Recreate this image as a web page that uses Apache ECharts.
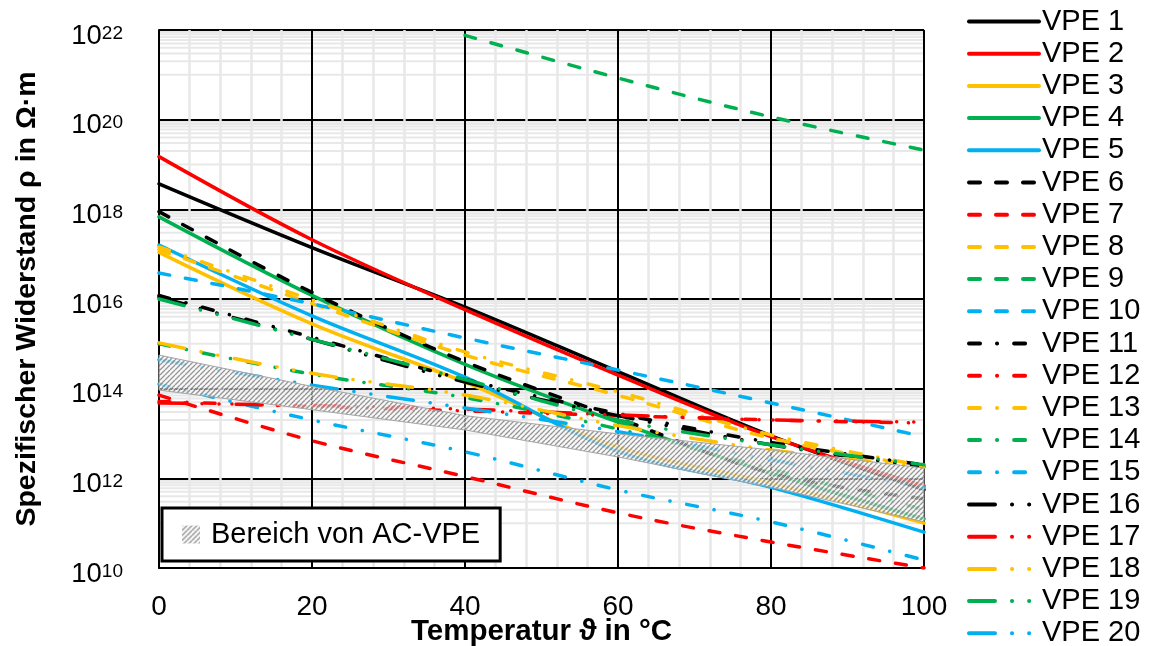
<!DOCTYPE html>
<html><head><meta charset="utf-8">
<script src="https://cdn.jsdelivr.net/npm/echarts@6/dist/echarts.min.js"></script>
<style>html,body{margin:0;padding:0;background:#fff}#c{width:1150px;height:646px}</style>
</head><body><div id="c"></div>
<script>
// ---- data ----
const temps = [0, 20, 40, 60, 80, 100];
const seriesNames = ['VPE 1','VPE 2','VPE 3','VPE 4','VPE 5','VPE 6','VPE 7','VPE 8','VPE 9','VPE 10',
  'VPE 11','VPE 12','VPE 13','VPE 14','VPE 15','VPE 16','VPE 17','VPE 18','VPE 19','VPE 20'];
const vpe1  = [3.7e18, 1.4e17, 6.6e15, 2.4e14, 8.9e12, 5.6e11];
const vpe2  = [1.5e19, 2.1e17, 5.8e15, 2.0e14, 8.5e12, 6.8e11];
const vpe3  = [1.1e17, 2.8e15, 1.4e14, 5.0e12, 7.9e11, 1.0e11];
const vpe4  = [6.8e17, 1.2e16, 3.5e14, 1.8e13, 1.3e12, 1.25e11];
const vpe5  = [1.6e17, 4.2e15, 1.8e14, 4.0e12, 6.3e11, 6.3e10];
const vpe6  = [8.9e17, 1.4e16, 4.0e14, 2.2e13, 1.3e12, 3.5e11];
const vpe7  = [7.2e13, 6.9e12, 1.1e12, 1.7e11, 3.8e10, 1.0e10];
const vpe8  = [1.26e17, 7.9e15, 5.6e14, 7.1e13, 7.9e12, 1.8e12];
const vpe9  = [null, null, 7.6e21, 8.5e20, 1.15e20, 2.1e19];
const vpe10 = [3.8e16, 7.8e15, 1.35e15, 2.6e14, 4.8e13, 8.5e12];
const vpe11 = [1.2e16, 1.4e15, 1.6e14, 2.8e13, 6.3e12, 2.0e12];
const vpe12 = [5.2e13, 4.0e13, 3.2e13, 2.5e13, 2.0e13, 1.7e13];
const vpe13 = [1.45e17, 9.5e15, 6.6e14, 8.5e13, 9.3e12, 1.9e12];
const vpe14 = [1.0e15, 2.1e14, 6.3e13, 1.26e13, 1.6e12, 2.0e11];
const vpe15 = [1.26e14, 2.0e13, 3.9e12, 5.5e11, 1.07e11, 1.5e10];
const vpe16 = [1.1e16, 1.26e15, 1.4e14, 2.5e13, 5.6e12, 1.8e12];
const vpe17 = [4.8e13, 4.2e13, 3.5e13, 2.6e13, 2.0e13, 1.8e13];
const vpe18 = [1.05e15, 2.2e14, 7.2e13, 1.5e13, 4.3e12, 1.8e12];
const vpe19 = [1.0e16, 1.26e15, 1.6e14, 2.0e13, 5.6e12, 2.0e12];
const vpe20 = [4.4e14, 1.2e14, 3.7e13, 1.1e13, 2.6e12, 6.3e11];
// band "Bereich von AC-VPE"
const bandName = 'Bereich von AC-VPE';
const bandLow  = [9.3e13, 3.4e13, 1.2e13, 3.0e12, 6.3e11, 1.07e11];
const bandHigh = [5.6e14, 1.12e14, 2.5e13, 9.8e12, 4.3e12, 1.7e12];

const allValues = [vpe1,vpe2,vpe3,vpe4,vpe5,vpe6,vpe7,vpe8,vpe9,vpe10,vpe11,vpe12,vpe13,vpe14,vpe15,vpe16,vpe17,vpe18,vpe19,vpe20];

// ---- styles ----
const FF = '"Liberation Sans", Arial, sans-serif';
const palette = ['#000000', '#FF0000', '#FFC000', '#00B050', '#00B0F0'];
const dashes = ['solid', [11, 16], [11, 17, 0.1, 17], [26, 17, 0.1, 17, 0.1, 17]];

function hatch() {
  const c = document.createElement('canvas');
  c.width = 5; c.height = 5;
  const g = c.getContext('2d');
  g.fillStyle = 'rgba(228,228,228,0.45)';
  g.fillRect(0, 0, 5, 5);
  g.lineWidth = 1.3;
  g.strokeStyle = 'rgba(140,140,140,0.9)';
  g.beginPath();
  for (let o = -5; o <= 10; o += 5) { g.moveTo(o, 5); g.lineTo(o + 5, 0); }
  g.stroke();
  g.strokeStyle = 'rgba(250,250,250,0.85)';
  g.lineWidth = 1.3;
  g.beginPath();
  for (let o = -7.5; o <= 10; o += 5) { g.moveTo(o, 5); g.lineTo(o + 5, 0); }
  g.stroke();
  return c;
}
const hatchFill = { image: hatch(), repeat: 'repeat' };

// minor horizontal grid positions (k * 10^odd)
const minorGrid = [];
for (let e = 11; e <= 21; e += 2) for (let k = 1; k <= 9; k++) minorGrid.push([0, k * Math.pow(10, e)]);

const lineSeries = allValues.map((vals, i) => ({
  name: seriesNames[i],
  type: 'line',
  data: temps.map((t, j) => [t, vals[j]]),
  symbol: 'none',
  smooth: 0.35,
  z: 3,
  lineStyle: { color: palette[i % 5], width: 3.5, type: dashes[Math.floor(i / 5)], cap: 'round' },
  itemStyle: { color: palette[i % 5] }
}));

const option = {
  animation: false,
  backgroundColor: '#fff',
  grid: { left: 159, right: 226, top: 30, bottom: 78, containLabel: false, outerBoundsMode: 'none' },
  xAxis: {
    type: 'value', min: 0, max: 100, interval: 20, z: 2,
    name: 'Temperatur ϑ in °C', nameLocation: 'middle', nameGap: 49, nameMoveOverlap: false,
    nameTextStyle: { fontFamily: FF, fontSize: 29.5, fontWeight: 'bold', color: '#000' },
    axisLine: { show: true, lineStyle: { color: '#000', width: 2 } },
    axisTick: { show: false },
    axisLabel: { fontFamily: FF, fontSize: 28, color: '#000', margin: 25 },
    splitLine: { show: true, lineStyle: { color: '#000', width: 2 } },
    minorTick: { show: false, splitNumber: 5 },
    minorSplitLine: { show: true, lineStyle: { color: '#e8e8e8', width: 2.5 } }
  },
  yAxis: {
    type: 'log', logBase: 100, min: 1e10, max: 1e22, splitNumber: 6, z: 1,
    name: 'Spezifischer Widerstand ρ in Ω·m', nameLocation: 'middle', nameGap: 117, nameRotate: 90,
    nameTextStyle: { fontFamily: FF, fontSize: 28.5, fontWeight: 'bold', color: '#000' },
    axisLine: { show: true, lineStyle: { color: '#000', width: 2 } },
    axisTick: { show: false },
    axisLabel: {
      margin: 36,
      formatter: v => '{b|10}{s|' + Math.round(Math.log10(v)) + '}',
      rich: {
        b: { fontFamily: FF, fontSize: 27.5, color: '#000', lineHeight: 36, padding: [12, 0, 0, 0] },
        s: { fontFamily: FF, fontSize: 19, color: '#000', lineHeight: 16, verticalAlign: 'top', padding: [12, 0, 0, 0] }
      }
    },
    splitLine: { show: true, lineStyle: { color: '#000', width: 2 } }
  },
  legend: [{
    data: seriesNames, orient: 'vertical', left: 967, top: 7, height: 645, padding: 0,
    itemWidth: 70, itemHeight: 14, itemGap: 3.2, selectedMode: false,
    itemStyle: { opacity: 0 },
    lineStyle: { width: 4, cap: 'round' },
    textStyle: { fontFamily: FF, fontSize: 29, color: '#000', lineHeight: 29, padding: [0, 0, 0, -2] }
  }, {
    data: [bandName], left: 162, top: 508, padding: [12, 20, 12, 20],
    backgroundColor: '#fff', borderColor: '#000', borderWidth: 3,
    itemWidth: 18, itemHeight: 18, icon: 'rect', selectedMode: false,
    textStyle: { fontFamily: FF, fontSize: 29, color: '#000', padding: [0, 0, 0, 6] }
  }],
  series: [{
    name: 'minorGrid', type: 'custom', z: 0, silent: true,
    data: minorGrid,
    renderItem: (params, api) => {
      const v = api.value(1);
      const a = api.coord([0, v]), b = api.coord([100, v]);
      return { type: 'line', shape: { x1: a[0], y1: a[1], x2: b[0], y2: b[1] }, style: { stroke: '#e8e8e8', lineWidth: 2 } };
    }
  }].concat(lineSeries).concat([{
    name: bandName, type: 'custom', z: 4, silent: true,
    itemStyle: { color: hatchFill },
    data: [[0, bandLow[0]]],
    renderItem: (params, api) => {
      const pts = [];
      temps.forEach((t, j) => pts.push(api.coord([t, bandHigh[j]])));
      for (let j = temps.length - 1; j >= 0; j--) pts.push(api.coord([temps[j], bandLow[j]]));
      return { type: 'polygon', shape: { points: pts }, style: { fill: hatchFill, stroke: '#a6a6a6', lineWidth: 1 } };
    }
  }])
};
const chart = echarts.init(document.getElementById('c'), null, { renderer: 'canvas' });
chart.setOption(option);
</script></body></html>
